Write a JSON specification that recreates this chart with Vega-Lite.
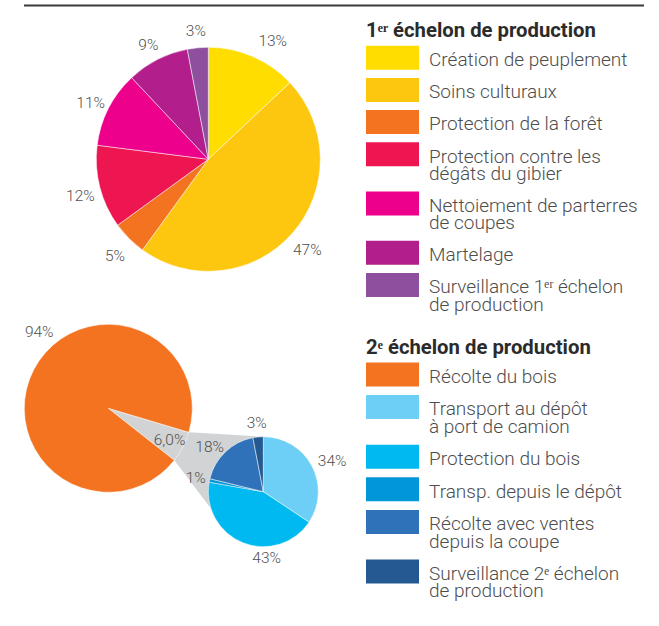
{
  "$schema": "https://vega.github.io/schema/vega-lite/v6.json",
  "width": 659,
  "height": 626,
  "padding": 0,
  "autosize": {"type": "none"},
  "background": "#ffffff",
  "config": {
    "view": {"stroke": null},
    "style": {"guide-label": {"lineHeight": 17.5}},
    "locale": {"number": {"decimal": ",", "thousands": " ", "grouping": [3], "currency": ["", " €"]}}
  },
  "layer": [
    {
      "data": {"values": [{}]},
      "mark": {"type": "rule", "color": "#3a3a3a", "strokeWidth": 2},
      "encoding": {
        "x": {"datum": 24, "type": "temporal", "scale": {"domain": [0, 659], "nice": false}, "axis": null},
        "x2": {"datum": 644},
        "y": {"datum": 5.5, "type": "temporal", "scale": {"domain": [0, 626], "reverse": true, "nice": false}, "axis": null}
      }
    },
    {
      "data": {
        "values": [
          {"activite": "Création de peuplement", "part": 0.13, "rang": 1},
          {"activite": "Soins culturaux", "part": 0.47, "rang": 2},
          {"activite": "Protection de la forêt", "part": 0.05, "rang": 3},
          {"activite": "Protection contre les dégâts du gibier", "part": 0.12, "rang": 4},
          {"activite": "Nettoiement de parterres de coupes", "part": 0.11, "rang": 5},
          {"activite": "Martelage", "part": 0.09, "rang": 6},
          {"activite": "Surveillance 1ᵉʳ échelon de production", "part": 0.03, "rang": 7}
        ]
      },
      "encoding": {
        "x": {"datum": 208.3, "type": "temporal", "scale": {"domain": [0, 659], "nice": false}, "axis": null},
        "y": {"datum": 159.3, "type": "temporal", "scale": {"domain": [0, 626], "reverse": true, "nice": false}, "axis": null},
        "theta": {"field": "part", "type": "quantitative", "stack": true},
        "order": {"field": "rang", "type": "quantitative"}
      },
      "layer": [
        {
          "mark": {"type": "arc", "outerRadius": 112, "stroke": "#ffffff", "strokeWidth": 0.5},
          "encoding": {
            "color": {
              "field": "activite",
              "type": "nominal",
              "scale": {
                "domain": ["Création de peuplement", "Soins culturaux", "Protection de la forêt", "Protection contre les dégâts du gibier", "Nettoiement de parterres de coupes", "Martelage", "Surveillance 1ᵉʳ échelon de production"],
                "range": ["#FFDD00", "#FDC70F", "#F37321", "#ED1651", "#EC008C", "#B21F8C", "#8D4F9E"]
              },
              "legend": {
                "title": "1ᵉʳ échelon de production",
                "orient": "none",
                "legendX": 366,
                "legendY": 20.7,
                "padding": 0,
                "titleFont": "Roboto",
                "titleFontSize": 20.3,
                "titleFontWeight": "bold",
                "titleColor": "#2b2b2b",
                "titlePadding": 0.5,
                "titleLimit": 400,
                "labelFont": "Roboto",
                "labelFontSize": 19,
                "labelFontWeight": 300,
                "labelColor": "#4d4d4d",
                "labelBaseline": "top",
                "labelOffset": 44,
                "labelLimit": 400,
                "symbolType": "M-1,-0.558H4.579V1.968H-1Z",
                "symbolSize": 361,
                "symbolStrokeWidth": 0,
                "symbolOpacity": 1,
                "rowPadding": 3.2,
                "labelExpr": "datum.label === 'Protection contre les dégâts du gibier' ? ['Protection contre les', 'dégâts du gibier'] : datum.label === 'Nettoiement de parterres de coupes' ? ['Nettoiement de parterres', 'de coupes'] : datum.label === 'Surveillance 1ᵉʳ échelon de production' ? ['Surveillance 1ᵉʳ échelon', 'de production'] : datum.label"
              }
            }
          }
        },
        {
          "mark": {"type": "text", "radius": 132, "dy": 3.5, "font": "Roboto", "fontSize": 15.5, "fontWeight": 300, "color": "#505050"},
          "encoding": {
            "detail": {"field": "activite", "type": "nominal"},
            "text": {"condition": {"test": "datum.rang !== 1", "field": "part", "type": "quantitative", "format": ".0%"}, "value": ""}
          }
        },
        {
          "mark": {"type": "text", "radius": 132, "dx": 12, "dy": 3, "font": "Roboto", "fontSize": 15.5, "fontWeight": 300, "color": "#505050"},
          "encoding": {
            "detail": {"field": "activite", "type": "nominal"},
            "text": {"condition": {"test": "datum.rang === 1", "field": "part", "type": "quantitative", "format": ".0%"}, "value": ""}
          }
        }
      ]
    },
    {
      "layer": [
        {
          "data": {"values": [{}]},
          "mark": {"type": "arc", "theta": 1.6298, "theta2": 2.4934, "outerRadius": 113, "color": "#D1D3D4"},
          "encoding": {
            "x": {"datum": 151.5, "type": "temporal", "scale": {"domain": [0, 659], "nice": false}, "axis": null},
            "y": {"datum": 430.1, "type": "temporal", "scale": {"domain": [0, 626], "reverse": true, "nice": false}, "axis": null}
          }
        },
        {
          "data": {
            "values": [
              {"activite": "Autres travaux du 2ᵉ échelon", "part": 0.06, "rang": 1},
              {"activite": "Récolte du bois", "part": 0.94, "rang": 2}
            ]
          },
          "encoding": {
            "x": {"datum": 108.3, "type": "temporal", "scale": {"domain": [0, 659], "nice": false}, "axis": null},
            "y": {"datum": 408.3, "type": "temporal", "scale": {"domain": [0, 626], "reverse": true, "nice": false}, "axis": null},
            "theta": {"field": "part", "type": "quantitative", "stack": true, "scale": {"range": [1.8605, 8.1437]}},
            "order": {"field": "rang", "type": "quantitative"}
          },
          "layer": [
            {
              "mark": {"type": "arc", "outerRadius": 84, "stroke": "#ffffff", "strokeWidth": 0.5},
              "encoding": {
                "color": {
                  "condition": {"test": "datum.rang === 1", "value": "#D1D3D4"},
                  "field": "activite",
                  "type": "nominal",
                  "scale": {
                    "domain": ["Récolte du bois", "Transport au dépôt à port de camion", "Protection du bois", "Transp. depuis le dépôt", "Récolte avec ventes depuis la coupe", "Surveillance 2ᵉ échelon de production"],
                    "range": ["#F37321", "#6DCFF6", "#00B9F0", "#0096D8", "#2F72B9", "#245A91"]
                  },
                  "legend": {
                    "title": "2ᵉ échelon de production",
                    "orient": "none",
                    "legendX": 366,
                    "legendY": 337.5,
                    "padding": 0,
                    "titleFont": "Roboto",
                    "titleFontSize": 20.3,
                    "titleFontWeight": "bold",
                    "titleColor": "#2b2b2b",
                    "titlePadding": 0.5,
                    "titleLimit": 400,
                    "labelFont": "Roboto",
                    "labelFontSize": 19,
                    "labelFontWeight": 300,
                    "labelColor": "#4d4d4d",
                    "labelBaseline": "top",
                    "labelOffset": 44,
                    "labelLimit": 400,
                    "symbolType": "M-1,-0.558H4.579V1.968H-1Z",
                    "symbolSize": 361,
                    "symbolStrokeWidth": 0,
                    "symbolOpacity": 1,
                    "rowPadding": 3.6,
                    "labelExpr": "datum.label === 'Transport au dépôt à port de camion' ? ['Transport au dépôt', 'à port de camion'] : datum.label === 'Récolte avec ventes depuis la coupe' ? ['Récolte avec ventes', 'depuis la coupe'] : datum.label === 'Surveillance 2ᵉ échelon de production' ? ['Surveillance 2ᵉ échelon', 'de production'] : datum.label"
                  }
                }
              }
            },
            {
              "mark": {"type": "text", "radius": 69, "font": "Roboto", "fontSize": 15.5, "fontWeight": 300, "color": "#505050"},
              "encoding": {
                "detail": {"field": "activite", "type": "nominal"},
                "text": {"condition": {"test": "datum.rang === 1", "field": "part", "type": "quantitative", "format": ".1%"}, "value": ""}
              }
            },
            {
              "mark": {"type": "text", "radius": 102, "dx": 21.5, "dy": -29.7, "font": "Roboto", "fontSize": 15.5, "fontWeight": 300, "color": "#505050"},
              "encoding": {
                "detail": {"field": "activite", "type": "nominal"},
                "text": {"condition": {"test": "datum.rang === 2", "field": "part", "type": "quantitative", "format": ".0%"}, "value": ""}
              }
            }
          ]
        },
        {
          "data": {
            "values": [
              {"activite": "Transport au dépôt à port de camion", "part": 0.34, "rang": 1},
              {"activite": "Protection du bois", "part": 0.43, "rang": 2},
              {"activite": "Transp. depuis le dépôt", "part": 0.01, "rang": 3},
              {"activite": "Récolte avec ventes depuis la coupe", "part": 0.18, "rang": 4},
              {"activite": "Surveillance 2ᵉ échelon de production", "part": 0.03, "rang": 5}
            ]
          },
          "encoding": {
            "x": {"datum": 263.3, "type": "temporal", "scale": {"domain": [0, 659], "nice": false}, "axis": null},
            "y": {"datum": 491.7, "type": "temporal", "scale": {"domain": [0, 626], "reverse": true, "nice": false}, "axis": null},
            "theta": {"field": "part", "type": "quantitative", "stack": true},
            "order": {"field": "rang", "type": "quantitative"}
          },
          "layer": [
            {
              "mark": {"type": "arc", "outerRadius": 55, "stroke": "#ffffff", "strokeWidth": 0.5},
              "encoding": {
                "color": {
                  "field": "activite",
                  "type": "nominal",
                  "scale": {
                    "domain": ["Récolte du bois", "Transport au dépôt à port de camion", "Protection du bois", "Transp. depuis le dépôt", "Récolte avec ventes depuis la coupe", "Surveillance 2ᵉ échelon de production"],
                    "range": ["#F37321", "#6DCFF6", "#00B9F0", "#0096D8", "#2F72B9", "#245A91"]
                  }
                }
              }
            },
            {
              "mark": {"type": "text", "radius": 69, "font": "Roboto", "fontSize": 15.5, "fontWeight": 300, "color": "#505050"},
              "encoding": {
                "detail": {"field": "activite", "type": "nominal"},
                "text": {"condition": {"test": "datum.rang === 3 || datum.rang === 5", "field": "part", "type": "quantitative", "format": ".0%"}, "value": ""}
              }
            },
            {
              "mark": {"type": "text", "radius": 69, "dx": 8, "dy": 1.5, "font": "Roboto", "fontSize": 15.5, "fontWeight": 300, "color": "#505050"},
              "encoding": {
                "detail": {"field": "activite", "type": "nominal"},
                "text": {"condition": {"test": "datum.rang === 1", "field": "part", "type": "quantitative", "format": ".0%"}, "value": ""}
              }
            },
            {
              "mark": {"type": "text", "radius": 69, "dx": 29, "dy": 2.5, "font": "Roboto", "fontSize": 15.5, "fontWeight": 300, "color": "#505050"},
              "encoding": {
                "detail": {"field": "activite", "type": "nominal"},
                "text": {"condition": {"test": "datum.rang === 2", "field": "part", "type": "quantitative", "format": ".0%"}, "value": ""}
              }
            },
            {
              "mark": {"type": "text", "radius": 69, "dx": -6, "dy": 5, "font": "Roboto", "fontSize": 15.5, "fontWeight": 300, "color": "#505050"},
              "encoding": {
                "detail": {"field": "activite", "type": "nominal"},
                "text": {"condition": {"test": "datum.rang === 4", "field": "part", "type": "quantitative", "format": ".0%"}, "value": ""}
              }
            }
          ]
        }
      ],
      "resolve": {"scale": {"theta": "independent"}}
    }
  ],
  "resolve": {"scale": {"theta": "independent", "color": "independent"}}
}
